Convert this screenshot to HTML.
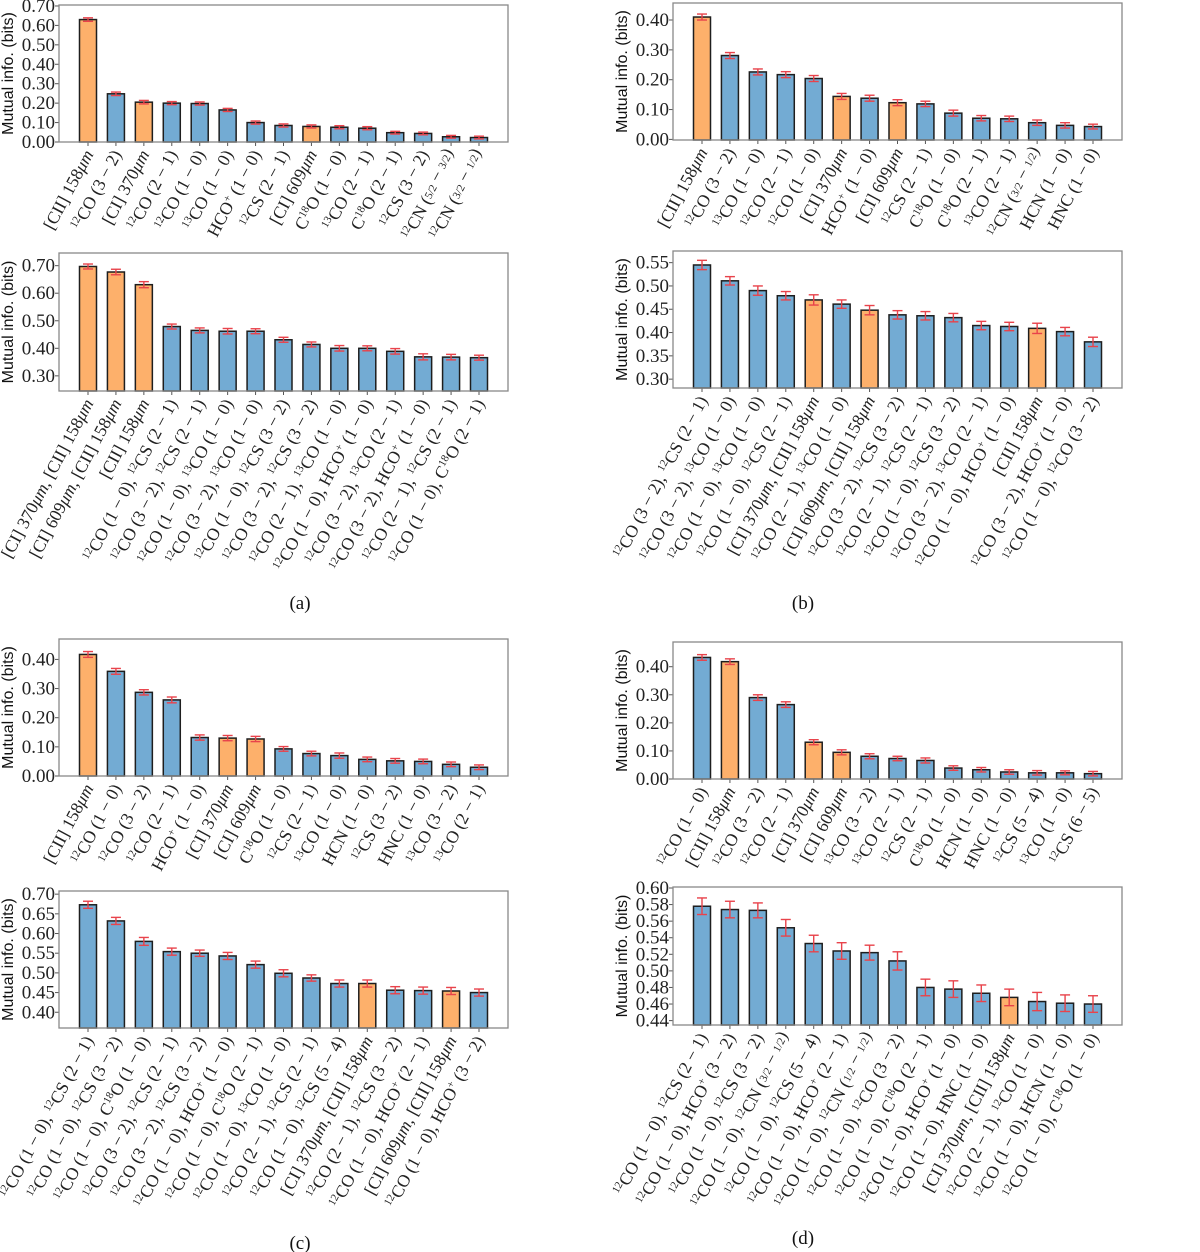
<!DOCTYPE html>
<html><head><meta charset="utf-8">
<style>
html,body{margin:0;padding:0;background:#fff;}
svg{display:block;}
.tick{font-family:"Liberation Serif",serif;font-size:19px;fill:#222;}
.xl{font-family:"Liberation Serif",serif;font-size:17.5px;fill:#222;}
.yt{font-family:"Liberation Sans",sans-serif;font-size:16px;fill:#111;}
.cap{font-family:"Liberation Serif",serif;font-size:19px;fill:#111;}
</style></head>
<body>
<svg id="fig" width="1200" height="1252" viewBox="0 0 1200 1252" xmlns="http://www.w3.org/2000/svg"></svg>
<script>
const a1Cats = ["[CII] 158μm","^{12}CO (3 − 2)","[CI] 370μm","^{12}CO (2 − 1)","^{12}CO (1 − 0)","^{13}CO (1 − 0)","HCO^{+} (1 − 0)","^{12}CS (2 − 1)","[CI] 609μm","C^{18}O (1 − 0)","^{13}CO (2 − 1)","C^{18}O (2 − 1)","^{12}CS (3 − 2)","^{12}CN (5/2 − 3/2)","^{12}CN (3/2 − 1/2)"];
const a1Vals = [0.630,0.248,0.205,0.200,0.198,0.165,0.100,0.085,0.080,0.076,0.071,0.048,0.044,0.027,0.023];
const a1Errs = [0.009,0.009,0.009,0.008,0.008,0.008,0.008,0.008,0.008,0.008,0.008,0.007,0.007,0.007,0.007];
const a1Hi = [0,2,8];

const a2Cats = ["[CI] 370μm, [CII] 158μm","[CI] 609μm, [CII] 158μm","[CII] 158μm","^{12}CO (1 − 0), ^{12}CS (2 − 1)","^{12}CO (3 − 2), ^{12}CS (2 − 1)","^{12}CO (1 − 0), ^{13}CO (1 − 0)","^{12}CO (3 − 2), ^{13}CO (1 − 0)","^{12}CO (1 − 0), ^{12}CS (3 − 2)","^{12}CO (3 − 2), ^{12}CS (3 − 2)","^{12}CO (2 − 1), ^{13}CO (1 − 0)","^{12}CO (1 − 0), HCO^{+} (1 − 0)","^{12}CO (3 − 2), ^{13}CO (2 − 1)","^{12}CO (3 − 2), HCO^{+} (1 − 0)","^{12}CO (2 − 1), ^{12}CS (2 − 1)","^{12}CO (1 − 0), C^{18}O (2 − 1)"];
const a2Vals = [0.697,0.677,0.631,0.479,0.465,0.462,0.462,0.431,0.414,0.400,0.400,0.389,0.369,0.368,0.366];
const a2Errs = [0.009,0.010,0.011,0.009,0.009,0.010,0.009,0.009,0.009,0.010,0.009,0.010,0.011,0.010,0.009];
const a2Hi = [0,1,2];

const b1Cats = ["[CII] 158μm","^{12}CO (3 − 2)","^{13}CO (1 − 0)","^{12}CO (2 − 1)","^{12}CO (1 − 0)","[CI] 370μm","HCO^{+} (1 − 0)","[CI] 609μm","^{12}CS (2 − 1)","C^{18}O (1 − 0)","C^{18}O (2 − 1)","^{13}CO (2 − 1)","^{12}CN (3/2 − 1/2)","HCN (1 − 0)","HNC (1 − 0)"];
const b1Vals = [0.410,0.281,0.226,0.217,0.204,0.144,0.138,0.123,0.119,0.088,0.071,0.069,0.056,0.047,0.043];
const b1Errs = [0.010,0.010,0.010,0.010,0.010,0.010,0.010,0.010,0.009,0.010,0.009,0.009,0.009,0.009,0.008];
const b1Hi = [0,5,7];

const b2Cats = ["^{12}CO (3 − 2), ^{12}CS (2 − 1)","^{12}CO (3 − 2), ^{13}CO (1 − 0)","^{12}CO (1 − 0), ^{13}CO (1 − 0)","^{12}CO (1 − 0), ^{12}CS (2 − 1)","[CI] 370μm, [CII] 158μm","^{12}CO (2 − 1), ^{13}CO (1 − 0)","[CI] 609μm, [CII] 158μm","^{12}CO (3 − 2), ^{12}CS (3 − 2)","^{12}CO (2 − 1), ^{12}CS (2 − 1)","^{12}CO (1 − 0), ^{12}CS (3 − 2)","^{12}CO (3 − 2), ^{13}CO (2 − 1)","^{12}CO (1 − 0), HCO^{+} (1 − 0)","[CII] 158μm","^{12}CO (3 − 2), HCO^{+} (1 − 0)","^{12}CO (1 − 0), ^{12}CO (3 − 2)"];
const b2Vals = [0.545,0.511,0.490,0.479,0.470,0.461,0.448,0.438,0.436,0.432,0.415,0.413,0.409,0.402,0.380];
const b2Errs = [0.010,0.009,0.010,0.009,0.011,0.009,0.010,0.009,0.009,0.009,0.009,0.009,0.011,0.009,0.010];
const b2Hi = [4,6,12];

const c1Cats = ["[CII] 158μm","^{12}CO (1 − 0)","^{12}CO (3 − 2)","^{12}CO (2 − 1)","HCO^{+} (1 − 0)","[CI] 370μm","[CI] 609μm","C^{18}O (1 − 0)","^{12}CS (2 − 1)","^{13}CO (1 − 0)","HCN (1 − 0)","^{12}CS (3 − 2)","HNC (1 − 0)","^{13}CO (3 − 2)","^{13}CO (2 − 1)"];
const c1Vals = [0.417,0.359,0.287,0.261,0.132,0.130,0.127,0.093,0.077,0.070,0.057,0.052,0.050,0.040,0.030];
const c1Errs = [0.010,0.010,0.009,0.010,0.009,0.009,0.009,0.008,0.008,0.009,0.008,0.008,0.008,0.008,0.008];
const c1Hi = [0,5,6];

const c2Cats = ["^{12}CO (1 − 0), ^{12}CS (2 − 1)","^{12}CO (1 − 0), ^{12}CS (3 − 2)","^{12}CO (1 − 0), C^{18}O (1 − 0)","^{12}CO (3 − 2), ^{12}CS (2 − 1)","^{12}CO (3 − 2), ^{12}CS (3 − 2)","^{12}CO (1 − 0), HCO^{+} (1 − 0)","^{12}CO (1 − 0), C^{18}O (2 − 1)","^{12}CO (1 − 0), ^{13}CO (1 − 0)","^{12}CO (2 − 1), ^{12}CS (2 − 1)","^{12}CO (1 − 0), ^{12}CS (5 − 4)","[CI] 370μm, [CII] 158μm","^{12}CO (2 − 1), ^{12}CS (3 − 2)","^{12}CO (1 − 0), HCO^{+} (2 − 1)","[CI] 609μm, [CII] 158μm","^{12}CO (1 − 0), HCO^{+} (3 − 2)"];
const c2Vals = [0.673,0.632,0.580,0.554,0.550,0.543,0.521,0.499,0.487,0.473,0.473,0.456,0.455,0.454,0.450];
const c2Errs = [0.009,0.009,0.010,0.009,0.008,0.009,0.009,0.009,0.008,0.009,0.009,0.009,0.009,0.009,0.009];
const c2Hi = [10,13];

const d1Cats = ["^{12}CO (1 − 0)","[CII] 158μm","^{12}CO (3 − 2)","^{12}CO (2 − 1)","[CI] 370μm","[CI] 609μm","^{13}CO (3 − 2)","^{13}CO (2 − 1)","^{12}CS (2 − 1)","C^{18}O (1 − 0)","HCN (1 − 0)","HNC (1 − 0)","^{12}CS (5 − 4)","^{13}CO (1 − 0)","^{12}CS (6 − 5)"];
const d1Vals = [0.433,0.418,0.290,0.265,0.131,0.095,0.081,0.073,0.066,0.039,0.033,0.025,0.022,0.022,0.019];
const d1Errs = [0.010,0.010,0.010,0.010,0.009,0.009,0.009,0.008,0.009,0.008,0.008,0.008,0.008,0.007,0.008];
const d1Hi = [1,4,5];

const d2Cats = ["^{12}CO (1 − 0), ^{12}CS (2 − 1)","^{12}CO (1 − 0), HCO^{+} (3 − 2)","^{12}CO (1 − 0), ^{12}CS (3 − 2)","^{12}CO (1 − 0), ^{12}CN (3/2 − 1/2)","^{12}CO (1 − 0), ^{12}CS (5 − 4)","^{12}CO (1 − 0), HCO^{+} (2 − 1)","^{12}CO (1 − 0), ^{12}CN (1/2 − 1/2)","^{12}CO (1 − 0), ^{12}CO (3 − 2)","^{12}CO (1 − 0), C^{18}O (2 − 1)","^{12}CO (1 − 0), HCO^{+} (1 − 0)","^{12}CO (1 − 0), HNC (1 − 0)","[CI] 370μm, [CII] 158μm","^{12}CO (2 − 1), ^{12}CO (1 − 0)","^{12}CO (1 − 0), HCN (1 − 0)","^{12}CO (1 − 0), C^{18}O (1 − 0)"];
const d2Vals = [0.578,0.574,0.573,0.552,0.533,0.524,0.522,0.512,0.480,0.478,0.473,0.468,0.463,0.461,0.460];
const d2Errs = [0.010,0.010,0.009,0.010,0.010,0.010,0.009,0.011,0.010,0.010,0.010,0.010,0.011,0.010,0.010];
const d2Hi = [11];

const ticksA1 = [0,0.1,0.2,0.3,0.4,0.5,0.6,0.7];
const ticksA2 = [0.3,0.4,0.5,0.6,0.7];
const ticksB1 = [0,0.1,0.2,0.3,0.4];
const ticksB2 = [0.30,0.35,0.40,0.45,0.50,0.55];
const ticksC1 = [0,0.1,0.2,0.3,0.4];
const ticksC2 = [0.40,0.45,0.50,0.55,0.60,0.65,0.70];
const ticksD1 = [0,0.1,0.2,0.3,0.4];
const ticksD2 = [0.44,0.46,0.48,0.50,0.52,0.54,0.56,0.58,0.60];

const NS = "http://www.w3.org/2000/svg";
const fig = document.getElementById('fig');
function mk(tag, attrs, parent){
  const e = document.createElementNS(NS, tag);
  for (const k in attrs) e.setAttribute(k, attrs[k]);
  (parent||fig).appendChild(e);
  return e;
}
function richText(t, str){
  const re = /\^\{([^}]*)\}|(\d)\/(\d)|μm/g;
  let last = 0, m;
  const add = (s, opt) => {
    const sp = document.createElementNS(NS,'tspan');
    sp.textContent = s;
    if (opt) for (const k in opt) sp.setAttribute(k, opt[k]);
    t.appendChild(sp);
  };
  let shifted = false;
  while ((m = re.exec(str))){
    if (m.index > last) { add(str.slice(last, m.index), shifted ? {dy:'6'} : null); shifted=false; }
    if (m[1] !== undefined){ add(m[1], {'font-size':'11', dy:'-6'}); shifted = true; }
    else if (m[2] !== undefined){ add(m[2]+'/'+m[3], {'font-size':'11', dy:'-2'}); add('', {dy:'2'}); }
    else { add('μm', {'font-style':'italic'}); }
    last = re.lastIndex;
  }
  if (last < str.length) add(str.slice(last), shifted ? {dy:'6'} : null);
}

function panel(id, x0, x1, yT, yB, vmin, vmax, cats, vals, errs, hi, ticks){
  const g = mk('g', {});
  
  
  const yS = v => yB - (v - vmin) / (vmax - vmin) * (yB - yT);
  const n = cats.length;
  const xS = i => x0 + 29 + i * (x1 - x0 - 58) / (n - 1);
  ticks.forEach(tv => {
    const y = yS(tv);
    mk('line', {x1:x0-4, x2:x0, y1:y, y2:y, stroke:'#555', 'stroke-width':1}, g);
    const t = mk('text', {x:x0-4, y:y+6, 'text-anchor':'end', class:'tick'}, g);
    t.textContent = tv.toFixed(2);
    
    
  });
  vals.forEach((v, i) => {
    const cx = xS(i), bw = 17;
    const y = yS(v);
    const r = mk('rect', {x:cx-bw/2, y:y, width:bw, height:Math.max(0, yB-y),
      fill: hi.includes(i) ? '#fdb06b' : '#73abd3', stroke:'#1e1e1e', 'stroke-width':1.5}, g);
    
    
    const e = errs[i];
    const ea = mk('g', {stroke:'#e8434b', 'stroke-width':1.4}, g);
    
    
    mk('line', {x1:cx, x2:cx, y1:yS(v-e), y2:yS(v+e)}, ea);
    mk('line', {x1:cx-5, x2:cx+5, y1:yS(v-e), y2:yS(v-e)}, ea);
    mk('line', {x1:cx-5, x2:cx+5, y1:yS(v+e), y2:yS(v+e)}, ea);
    mk('line', {x1:cx, x2:cx, y1:yB, y2:yB+4, stroke:'#555', 'stroke-width':1}, g);
    const lx = cx + 6, ly = yB + 12;
    const t = mk('text', {x:lx, y:ly, 'text-anchor':'end', class:'xl', transform:`rotate(-62 ${lx} ${ly})`}, g);
    richText(t, cats[i]);
    
    
  });
  const fr = mk('rect', {x:x0, y:yT, width:x1-x0, height:yB-yT, fill:'none', stroke:'#888', 'stroke-width':1.3}, g);
  
  
  const lx = x0 - 46, ly = (yT + yB) / 2;
  const yl = mk('text', {x:lx, y:ly, 'text-anchor':'middle', class:'yt', transform:`rotate(-90 ${lx} ${ly})`}, g);
  yl.textContent = 'Mutual info.  (bits)';
  
  
}

panel('a-top', 59, 508, 5, 142, 0, 0.705, a1Cats, a1Vals, a1Errs, a1Hi, ticksA1);
panel('a-bottom', 59, 508, 253, 391, 0.245, 0.746, a2Cats, a2Vals, a2Errs, a2Hi, ticksA2);
panel('b-top', 673, 1122, 3, 140, -0.002, 0.457, b1Cats, b1Vals, b1Errs, b1Hi, ticksB1);
panel('b-bottom', 673, 1122, 251, 388, 0.281, 0.575, b2Cats, b2Vals, b2Errs, b2Hi, ticksB2);
panel('c-top', 59, 508, 639, 776, 0, 0.47, c1Cats, c1Vals, c1Errs, c1Hi, ticksC1);
panel('c-bottom', 59, 508, 891, 1028, 0.36, 0.708, c2Cats, c2Vals, c2Errs, c2Hi, ticksC2);
panel('d-top', 673, 1122, 642, 779, 0, 0.488, d1Cats, d1Vals, d1Errs, d1Hi, ticksD1);
panel('d-bottom', 673, 1122, 887, 1025, 0.4347, 0.6012, d2Cats, d2Vals, d2Errs, d2Hi, ticksD2);

[['(a)',300,609],['(b)',803,609],['(c)',300,1249],['(d)',803,1244]].forEach(c => {
  const t = mk('text', {x:c[1], y:c[2], 'text-anchor':'middle', class:'cap'});
  t.textContent = c[0];
  
  
});
</script>
</body></html>
